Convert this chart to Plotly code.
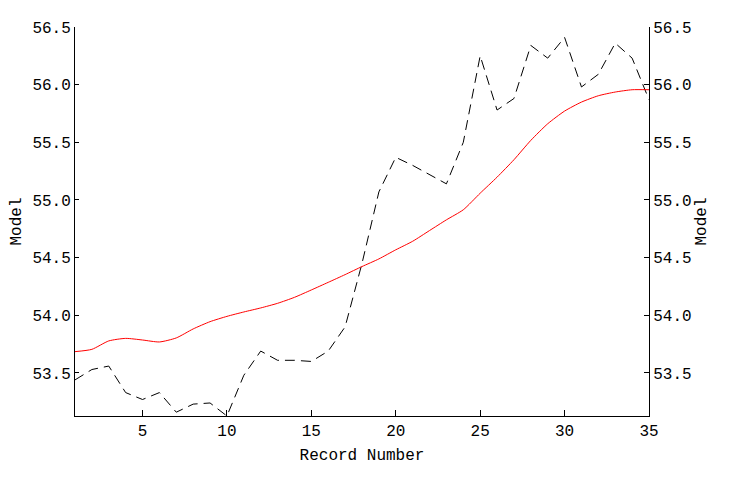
import plotly.graph_objects as go

record = list(range(1, 36))
observed = [53.44, 53.53, 53.56, 53.33, 53.27, 53.33, 53.16, 53.23, 53.24, 53.127,
            53.48, 53.69, 53.61, 53.61, 53.60, 53.69, 53.90, 54.45, 55.07, 55.37,
            55.30, 55.22, 55.14, 55.50, 56.25, 55.78, 55.88, 56.34, 56.23, 56.41,
            55.98, 56.09, 56.36, 56.23, 55.87]
model = [53.685, 53.705, 53.778, 53.80, 53.786, 53.769, 53.804, 53.882, 53.945, 53.991,
         54.029, 54.064, 54.104, 54.156, 54.22, 54.286, 54.353, 54.423, 54.489, 54.568,
         54.642, 54.735, 54.828, 54.915, 55.059, 55.198, 55.349, 55.517, 55.661, 55.771,
         55.849, 55.904, 55.936, 55.956, 55.956]
y_range = [53.127, 56.5]
y_ticks = [53.5, 54.0, 54.5, 55.0, 55.5, 56.0, 56.5]
x_ticks = [5, 10, 15, 20, 25, 30, 35]

FONT = "Liberation Mono"

fig = go.Figure()
fig.add_trace(go.Scatter(x=record, y=observed, mode="lines",
                         line=dict(color="black", width=1, dash="10px,6px"),
                         showlegend=False))
fig.add_trace(go.Scatter(x=record, y=model, mode="lines", yaxis="y2",
                         line=dict(color="#ff0000", width=1, shape="spline", smoothing=0.6),
                         showlegend=False))

axis_common = dict(showgrid=False, zeroline=False, showline=True, linecolor="black",
                   linewidth=1, ticks="inside", tickcolor="black", tickwidth=1,
                   automargin=False,
                   tickfont=dict(family=FONT, size=16, color="black"))

fig.update_layout(
    width=745, height=485,
    margin=dict(l=67, r=104, t=19, b=77),
    paper_bgcolor="white", plot_bgcolor="white",
    xaxis=dict(range=[1, 35], tickvals=x_ticks, ticklen=6,
               title=dict(text="Record Number", font=dict(family=FONT, size=16, color="black"), standoff=8),
               **axis_common),
    yaxis=dict(range=y_range, tickvals=y_ticks, tickformat=".1f", ticklen=4,
               title=dict(text="Model", font=dict(family=FONT, size=16, color="black"), standoff=8),
               **axis_common),
    yaxis2=dict(range=y_range, tickvals=y_ticks, tickformat=".1f", ticklen=5,
                overlaying="y", side="right",
                title=dict(text="Model", font=dict(family=FONT, size=16, color="black"), standoff=4),
                **axis_common),
)

fig.write_html("out.html")
